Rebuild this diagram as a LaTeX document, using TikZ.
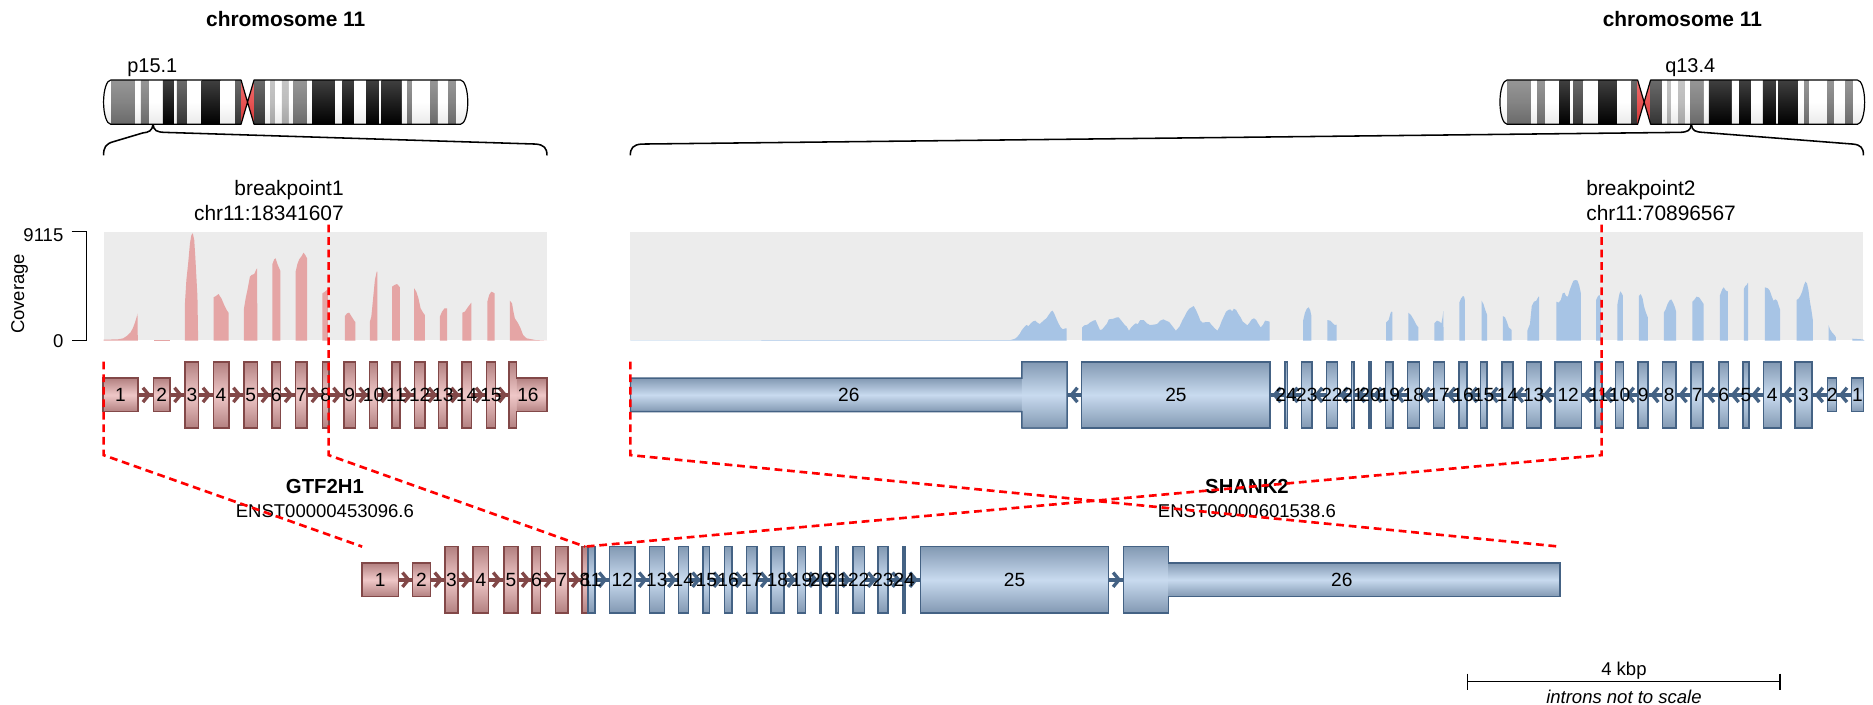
\documentclass[tikz,border=0pt]{standalone}
\usepackage{fontspec}
\setmainfont{Liberation Sans}
\usetikzlibrary{calc}

\definecolor{pinkfill}{HTML}{E5A5A5}
\definecolor{bluefill}{HTML}{A7C4E5}
\definecolor{pinkdark}{RGB}{130,72,72}
\definecolor{bluedark}{RGB}{68,98,132}
\definecolor{panelgray}{RGB}{236,236,236}
\definecolor{stneg}{gray}{1}
\definecolor{stA}{gray}{0.7}
\definecolor{stB}{gray}{0.45}
\definecolor{stC}{gray}{0.22}
\definecolor{stD}{gray}{0}
\definecolor{stacen}{RGB}{228,60,60}

\newcommand\fsbig{\fontsize{17.5}{20}\selectfont}
\newcommand\fsband{\fontsize{16.7}{19}\selectfont}
\newcommand\fssmall{\fontsize{15.5}{18}\selectfont}
\newcommand\fsexon{\fontsize{16}{18}\selectfont}
\newcommand\trkA{330.6}
\newcommand\trkB{485.3}

% chromosome 11 ideogram (hg38 bands in Mb); #1 = left x, #2 = drawn length
\newcommand\chromo[2]{%
  \pgfmathsetmacro\cpE{#1+51.0/135.087*#2}%
  \pgfmathsetmacro\cqS{#1+55.8/135.087*#2}%
  \pgfmathsetmacro\cce{#1+53.4/135.087*#2}%
  \pgfmathsetmacro\cR{#1+#2}%
  \begin{scope}
    \clip ({#1+6},67) .. controls ({#1+2.69},67) and (#1,75.28) .. (#1,85.5)
      .. controls (#1,95.72) and ({#1+2.69},104) .. ({#1+6},104)
      -- (\cpE,104) -- (\cce,85.5) -- (\cpE,67) -- cycle
      (\cqS,67) -- ({\cR-6},67) .. controls ({\cR-2.69},67) and (\cR,75.28) .. (\cR,85.5)
      .. controls (\cR,95.72) and ({\cR-2.69},104) .. ({\cR-6},104)
      -- (\cqS,104) -- (\cce,85.5) -- cycle;
    \foreach \bandS/\bandE/\bandC in {0/2.8/stneg, 2.8/11.7/stB, 11.7/13.8/stneg,
        13.8/16.9/stB, 16.9/22.0/stneg, 22.0/26.2/stD, 26.2/27.2/stneg, 27.2/31.0/stC,
        31.0/36.4/stneg, 36.4/43.4/stD, 43.4/48.8/stneg, 48.8/51.0/stC, 51.0/55.8/stacen,
        55.8/60.1/stC, 60.1/61.9/stneg, 61.9/63.6/stA, 63.6/66.1/stneg, 66.1/68.7/stA,
        68.7/70.5/stneg, 70.5/75.5/stB, 75.5/77.4/stneg, 77.4/85.9/stD, 85.9/88.6/stneg,
        88.6/93.0/stD, 93.0/97.4/stneg, 97.4/102.3/stD, 102.3/103.0/stneg, 103.0/110.6/stD,
        110.6/112.7/stneg, 112.7/114.6/stB, 114.6/121.3/stneg, 121.3/124.0/stB,
        124.0/127.9/stneg, 127.9/130.9/stB, 130.9/135.087/stneg}
      \shade[top color=\bandC!75!white, bottom color=\bandC!92!black, middle color=\bandC!88!white]
        ({#1+\bandS/135.087*#2},67) rectangle ({#1+\bandE/135.087*#2},104);
  \end{scope}
  \draw[line width=1pt, line join=round]
      ({#1+6},67) .. controls ({#1+2.69},67) and (#1,75.28) .. (#1,85.5)
      .. controls (#1,95.72) and ({#1+2.69},104) .. ({#1+6},104)
      -- (\cpE,104) -- (\cce,85.5) -- (\cpE,67) -- cycle
      (\cqS,67) -- ({\cR-6},67) .. controls ({\cR-2.69},67) and (\cR,75.28) .. (\cR,85.5)
      .. controls (\cR,95.72) and ({\cR-2.69},104) .. ({\cR-6},104)
      -- (\cqS,104) -- (\cce,85.5) -- cycle;
}

\begin{document}
\begin{tikzpicture}[x=1pt,y=-1pt,
  every node/.style={inner sep=0pt, outer sep=0pt},
  exonpink/.style={draw=pinkdark, line width=1.2pt, top color=pinkfill!78!black,
    bottom color=pinkfill!78!black, middle color=pinkfill!62!white},
  exonblue/.style={draw=bluedark, line width=1.2pt, top color=bluefill!78!black,
    bottom color=bluefill!78!black, middle color=bluefill!62!white},
  partpink/.style={exonpink, draw=none},
  partblue/.style={exonblue, draw=none},
  talls/.style={minimum height=55.4pt},
  shorts/.style={minimum height=28pt},
  rimpink/.style={draw=pinkdark, line width=1.2pt},
  rimblue/.style={draw=bluedark, line width=1.2pt},
  intronpink/.style={draw=pinkdark, line width=3pt},
  intronblue/.style={draw=bluedark, line width=3pt},
  chevpink/.style={draw=pinkdark, line width=2.8pt},
  chevblue/.style={draw=bluedark, line width=2.8pt},
  exlab/.style={font=\fsexon, text=black, anchor=base},
  bpline/.style={draw=red, line width=2.2pt, dash pattern=on 6.5pt off 4pt},
  bracket/.style={draw=black, line width=1.3pt},
]
\useasboundingbox (0,0) rectangle (1568,590);
\fill[white] (0,0) rectangle (1568,590);

% ---------- chromosome ideograms ----------
\node[font=\fsbig\bfseries, anchor=base] (titleA) at (239.2,22.5) {chromosome 11};
\node[font=\fsbig\bfseries, anchor=base] (titleB) at (1408.4,22.5) {chromosome 11};
\node[font=\fsband, anchor=base] (bandA) at (127.5,60.4) {p15.1};
\node[font=\fsband, anchor=base] (bandB) at (1415,60.4) {q13.4};
\chromo{86.7}{304.9}
\chromo{1255.7}{305.3}

% braces from the band down to the plotted region
\coordinate (apexA) at (128.1,104);
\coordinate (apexB) at (1415.9,104);
\coordinate (brAl) at (86.7,130);
\coordinate (brAr) at (457.9,130);
\coordinate (brBl) at (527.7,130);
\coordinate (brBr) at (1560,130);
\draw[bracket] (apexA) .. controls (127.6,109.5) and (124.5,110.8) .. (119.5,111.3)
  -- (95,118.6) .. controls (88.5,120.3) and (86.7,123.5) .. (brAl);
\draw[bracket] (apexA) .. controls (128.6,109.5) and (131.5,110.5) .. (137.5,110.8)
  -- (448.5,120.6) .. controls (455.5,121.2) and (457.9,124) .. (brAr);
\draw[bracket] (apexB) .. controls (1415.4,109.5) and (1412.5,110.5) .. (1406.5,110.8)
  -- (537,120.6) .. controls (530,121.2) and (527.7,124) .. (brBl);
\draw[bracket] (apexB) .. controls (1416.4,109.5) and (1419.5,110.5) .. (1425.5,110.8)
  -- (1551,120.6) .. controls (1558,121.2) and (1560,124) .. (brBr);

% ---------- coverage panels ----------
\fill[panelgray] (86.7,194) rectangle (457.9,285);
\fill[panelgray] (527.7,194) rectangle (1560,285);

\begin{scope}[shift={(0,142.3)}, x=0.2989pt, y=-0.2791pt]
  \fill[pinkfill] plot coordinates {(290,512) (290,509) (330,508) (345,505) (355,498) (365,488) (372,475) (378,458) (383,440) (385,430) (386,512)} -- cycle;
  \fill[pinkfill] plot coordinates {(430,512) (430,509) (475,509) (475,512)} -- cycle;
  \fill[pinkfill] plot coordinates {(518,512) (518,400) (522,330) (527,280) (532,220) (536,195) (540,190) (544,210) (547,260) (550,320) (553,380) (555,512)} -- cycle;
  \fill[pinkfill] plot coordinates {(598,512) (598,382) (605,378) (612,372) (620,385) (628,405) (635,420) (640,428) (640,512)} -- cycle;
  \fill[pinkfill] plot coordinates {(683,512) (683,418) (688,385) (693,360) (700,320) (705,315) (712,312) (718,298) (720,295) (721,512)} -- cycle;
  \fill[pinkfill] plot coordinates {(763,512) (763,282) (768,268) (772,265) (777,282) (785,302) (785,512)} -- cycle;
  \fill[pinkfill] plot coordinates {(828,512) (828,305) (833,282) (838,268) (845,258) (850,248) (855,255) (860,265) (860,512)} -- cycle;
  \fill[pinkfill] plot coordinates {(903,512) (903,370) (910,365) (918,358) (918,512)} -- cycle;
  \fill[pinkfill] plot coordinates {(966,512) (966,438) (972,430) (978,428) (985,440) (992,452) (995,456) (995,512)} -- cycle;
  \fill[pinkfill] plot coordinates {(1036,512) (1036,455) (1040,440) (1045,385) (1050,330) (1055,305) (1057,305) (1057,512)} -- cycle;
  \fill[pinkfill] plot coordinates {(1098,512) (1098,350) (1105,345) (1112,342) (1117,348) (1120,352) (1120,512)} -- cycle;
  \fill[pinkfill] plot coordinates {(1160,512) (1160,355) (1166,365) (1172,385) (1178,415) (1185,428) (1190,435) (1190,512)} -- cycle;
  \fill[pinkfill] plot coordinates {(1232,512) (1232,440) (1238,425) (1245,415) (1252,415) (1252,512)} -- cycle;
  \fill[pinkfill] plot coordinates {(1295,512) (1295,428) (1302,425) (1310,412) (1315,405) (1320,398) (1320,512)} -- cycle;
  \fill[pinkfill] plot coordinates {(1365,512) (1365,395) (1370,375) (1376,365) (1382,368) (1385,370) (1385,512)} -- cycle;
  \fill[pinkfill] plot coordinates {(1428,512) (1428,392) (1434,400) (1438,425) (1442,445) (1450,458) (1458,475) (1465,495) (1475,505) (1500,510) (1532,512)} -- cycle;
\end{scope}

\begin{scope}[shift={(502.3,192.55)}, x=0.3737pt, y=-0.2791pt]
  \fill[bluefill] plot coordinates {(68,332) (68,331) (920,330) (930,326) (935,320) (940,312) (945,300) (950,292) (955,285) (960,288) (965,280) (970,274) (975,272) (980,278) (985,282) (990,276) (995,270) (1000,265) (1005,255) (1010,245) (1014,242) (1018,252) (1022,265) (1027,280) (1032,292) (1037,298) (1042,295) (1045,295) (1045,332)} -- cycle;
  \fill[bluefill] plot coordinates {(1080,332) (1080,292) (1085,286) (1092,284) (1097,278) (1105,272) (1110,270) (1115,285) (1120,300) (1125,298) (1130,290) (1135,282) (1140,268) (1150,266) (1158,262) (1162,262) (1168,272) (1175,284) (1180,290) (1185,302) (1190,292) (1195,285) (1200,280) (1205,282) (1210,270) (1218,270) (1225,280) (1232,285) (1240,284) (1248,282) (1255,272) (1262,268) (1268,272) (1275,276) (1282,288) (1290,302) (1298,290) (1305,270) (1310,258) (1315,245) (1320,236) (1325,232) (1330,228) (1335,240) (1340,255) (1345,272) (1350,278) (1358,276) (1365,276) (1370,285) (1378,296) (1383,302) (1388,290) (1393,272) (1398,258) (1402,246) (1407,240) (1412,238) (1416,244) (1420,236) (1425,240) (1430,252) (1435,262) (1440,275) (1445,280) (1450,286) (1455,278) (1460,268) (1465,265) (1470,270) (1475,282) (1480,292) (1485,285) (1490,272) (1495,273) (1500,275) (1500,332)} -- cycle;
\end{scope}

\begin{scope}[shift={(1080,192.55)}, x=0.3113pt, y=-0.2791pt]
  \fill[bluefill] plot coordinates {(35,332) (35,272) (40,248) (45,236) (50,232) (54,240) (57,256) (57,332)} -- cycle;
  \fill[bluefill] plot coordinates {(100,332) (100,270) (108,272) (115,280) (120,285) (125,284) (125,332)} -- cycle;
  \fill[bluefill] plot coordinates {(258,332) (258,278) (265,270) (270,250) (272,245) (275,246) (275,332)} -- cycle;
  \fill[bluefill] plot coordinates {(318,332) (318,248) (325,255) (332,268) (340,285) (345,292) (345,332)} -- cycle;
  \fill[bluefill] plot coordinates {(388,332) (388,280) (395,272) (402,275) (407,280) (410,262) (412,243) (413,332)} -- cycle;
  \fill[bluefill] plot coordinates {(455,332) (455,218) (460,205) (465,198) (468,200) (470,210) (470,332)} -- cycle;
  \fill[bluefill] plot coordinates {(515,332) (515,212) (520,222) (525,240) (530,255) (530,332)} -- cycle;
  \fill[bluefill] plot coordinates {(572,332) (572,258) (578,262) (583,275) (588,292) (596,300) (596,332)} -- cycle;
  \fill[bluefill] plot coordinates {(638,332) (638,302) (645,282) (650,228) (656,215) (662,212) (668,200) (670,200) (670,332)} -- cycle;
  \fill[bluefill] plot coordinates {(716,332) (716,215) (722,218) (728,210) (733,190) (738,188) (742,198) (747,200) (752,180) (757,165) (762,152) (768,150) (773,152) (778,168) (782,190) (782,332)} -- cycle;
  \fill[bluefill] plot coordinates {(823,332) (823,210) (828,198) (832,195) (836,210) (836,332)} -- cycle;
  \fill[bluefill] plot coordinates {(880,332) (880,225) (885,195) (888,184) (892,190) (895,197) (895,332)} -- cycle;
  \fill[bluefill] plot coordinates {(938,332) (938,198) (943,192) (948,205) (952,230) (957,248) (962,262) (962,332)} -- cycle;
  \fill[bluefill] plot coordinates {(1005,332) (1005,248) (1010,238) (1015,222) (1020,212) (1025,208) (1030,218) (1035,232) (1038,245) (1038,332)} -- cycle;
  \fill[bluefill] plot coordinates {(1082,332) (1082,215) (1088,208) (1093,200) (1100,202) (1105,210) (1112,222) (1112,332)} -- cycle;
  \fill[bluefill] plot coordinates {(1156,332) (1156,196) (1162,178) (1166,172) (1172,182) (1177,184) (1177,332)} -- cycle;
  \fill[bluefill] plot coordinates {(1220,332) (1220,178) (1224,168) (1228,165) (1230,160) (1232,158) (1232,332)} -- cycle;
  \fill[bluefill] plot coordinates {(1277,332) (1277,172) (1285,175) (1290,182) (1295,198) (1300,212) (1305,208) (1310,212) (1315,230) (1318,240) (1318,332)} -- cycle;
  \fill[bluefill] plot coordinates {(1362,332) (1362,210) (1368,205) (1372,198) (1377,185) (1382,165) (1386,155) (1390,160) (1394,180) (1398,215) (1402,240) (1406,272) (1406,332)} -- cycle;
  \fill[bluefill] plot coordinates {(1448,332) (1448,285) (1452,298) (1458,308) (1464,315) (1468,322) (1468,332)} -- cycle;
  \fill[bluefill] plot coordinates {(1512,332) (1512,326) (1540,328) (1545,332)} -- cycle;
\end{scope}

% coverage axis
\coordinate (axT) at (72.3,194);
\coordinate (axB) at (72.3,285);
\draw[line width=1.2pt] (60,194) -- (axT) -- (axB) -- (60,285);
\node[font=\fssmall, anchor=base east] (axmax) at (53,202.3) {9115};
\node[font=\fssmall, anchor=base east] (axmin) at (53,290.6) {0};
\node[font=\fssmall, rotate=90] (axname) at (16.4,246) {Coverage};

% breakpoint labels
\node[font=\fsbig, anchor=base east] (bpAname) at (287.7,164) {breakpoint1};
\node[font=\fsbig, anchor=base east] (bpApos) at (287.7,184.9) {chr11:18341607};
\node[font=\fsbig, anchor=base west] (bpBname) at (1328,164) {breakpoint2};
\node[font=\fsbig, anchor=base west] (bpBpos) at (1328,184.9) {chr11:70896567};

% ---------- GTF2H1 transcript ----------
\coordinate (gaL) at (86.1,\trkA);
\coordinate (gaR) at (458,\trkA);
\draw[intronpink] (gaL) -- (gaR);
\foreach \a/\b in {115.7/128.6, 142.3/154.9, 166.3/178.5, 191.6/204.2, 215.6/227.8,
    234.7/247.6, 257.1/270, 275.4/287.9, 297.5/309.5, 316/328, 334.9/346.8,
    355.8/367.2, 374.3/386.6, 394.7/407.2, 414.7/426}
  \draw[chevpink] ({(\a+\b)/2-2.5},\trkA-6) -- ({(\a+\b)/2+2.5},\trkA) -- ({(\a+\b)/2-2.5},\trkA+6);
\foreach \a/\b/\n in {86.1/115.7/1, 128.6/142.3/2}
  \node[exonpink, shorts, minimum width={(\b-\a)*1pt}] (ga\n) at ({(\a+\b)/2},\trkA) {};
\foreach \a/\b/\n in {154.9/166.3/3, 178.5/191.6/4, 204.2/215.6/5, 227.8/234.7/6,
    247.6/257.1/7, 270/275.4/8, 287.9/297.5/9, 309.5/316.0/10, 328/334.9/11,
    346.8/355.8/12, 367.2/374.3/13, 386.6/394.7/14, 407.2/414.7/15}
  \node[exonpink, talls, minimum width={(\b-\a)*1pt}] (ga\n) at ({(\a+\b)/2},\trkA) {};
\node[partpink, talls, minimum width=6.6pt] (ga16t) at (429.3,\trkA) {};
\node[partpink, shorts, minimum width=25.4pt] (ga16s) at (445.3,\trkA) {};
\draw[rimpink] (ga16t.north west) -- (ga16t.north east) -- (ga16s.north west)
  -- (ga16s.north east) -- (ga16s.south east) -- (ga16s.south west)
  -- (ga16t.south east) -- (ga16t.south west) -- cycle;
\foreach \x/\n in {100.9/1, 135.45/2, 160.6/3, 185.05/4, 209.9/5, 231.25/6, 252.35/7,
    272.7/8, 292.7/9, 312.75/10, 331.45/11, 351.3/12, 370.75/13, 390.65/14, 410.95/15, 442/16}
  \node[exlab] (gal\n) at (\x,\trkA+5.8) {\n};

% ---------- SHANK2 transcript ----------
\coordinate (gbL) at (527.8,\trkA);
\coordinate (gbR) at (1560,\trkA);
\draw[intronblue] (gbL) -- (gbR);
\foreach \a/\b in {893.3/905.6, 1063.2/1075.8, 1077.7/1089.7, 1098.4/1110.4,
    1119.6/1131.6, 1133.6/1146.2, 1147.6/1160, 1166.2/1178.2, 1188.2/1200,
    1209.4/1221.5, 1228.2/1239.4, 1244.7/1257.4, 1266.7/1278, 1289.9/1301.9,
    1323.8/1335.2, 1341.2/1352.5, 1359.2/1371.2, 1379.8/1391.7, 1403/1415.7,
    1425.7/1439, 1447/1459, 1464.3/1476.2, 1490.8/1502.8, 1516.8/1530.1, 1537.4/1550}
  \draw[chevblue] ({(\a+\b)/2+2.5},\trkA-6) -- ({(\a+\b)/2-2.5},\trkA) -- ({(\a+\b)/2+2.5},\trkA+6);
\node[partblue, shorts, minimum width=327.7pt] (gb26s) at (691.65,\trkA) {};
\node[partblue, talls, minimum width=37.8pt] (gb26t) at (874.4,\trkA) {};
\draw[rimblue] (gb26s.north west) -- (gb26s.north east) -- (gb26t.north west)
  -- (gb26t.north east) -- (gb26t.south east) -- (gb26t.south west)
  -- (gb26s.south east) -- (gb26s.south west) -- cycle;
\foreach \a/\b/\n in {905.6/1063.2/25, 1075.8/1077.7/24, 1089.7/1098.4/23,
    1110.4/1119.6/22, 1131.6/1133.6/21, 1146.2/1147.6/20, 1160/1166.2/19,
    1178.2/1188.2/18, 1200/1209.4/17, 1221.5/1228.2/16, 1239.4/1244.7/15,
    1257.4/1266.7/14, 1278/1289.9/13, 1301.9/1323.8/12, 1335.2/1341.2/11,
    1352.5/1359.2/10, 1371.2/1379.8/9, 1391.7/1403/8, 1415.7/1425.7/7,
    1439/1447/6, 1459/1464.3/5, 1476.2/1490.8/4, 1502.8/1516.8/3}
  \node[exonblue, talls, minimum width={(\b-\a)*1pt}] (gb\n) at ({(\a+\b)/2},\trkA) {};
\foreach \a/\b/\n in {1530.1/1537.4/2, 1550/1560/1}
  \node[exonblue, shorts, minimum width={(\b-\a)*1pt}] (gb\n) at ({(\a+\b)/2},\trkA) {};
\foreach \x/\n in {710.55/26, 984.4/25, 1076.75/24, 1094.05/23, 1115/22, 1132.6/21,
    1146.9/20, 1163.1/19, 1183.2/18, 1204.7/17, 1224.85/16, 1242.05/15, 1262.05/14,
    1283.95/13, 1312.85/12, 1338.2/11, 1355.85/10, 1375.5/9, 1397.35/8, 1420.7/7,
    1443/6, 1461.65/5, 1483.5/4, 1509.8/3, 1533.75/2, 1555/1}
  \node[exlab] (gbl\n) at (\x,\trkA+5.8) {\n};

% gene names
\node[font=\fontsize{17}{20}\selectfont\bfseries, anchor=base] (nameA) at (272,413.5) {GTF2H1};
\node[font=\fssmall, anchor=base] (txA) at (272,433.4) {ENST00000453096.6};
\node[font=\fontsize{17}{20}\selectfont\bfseries, anchor=base] (nameB) at (1043.9,413.5) {SHANK2};
\node[font=\fssmall, anchor=base] (txB) at (1043.9,433.4) {ENST00000601538.6};

% ---------- fusion transcript ----------
\coordinate (fuL) at (303.2,\trkB);
\coordinate (fuJ) at (489.75,\trkB);
\coordinate (fuR) at (1305.8,\trkB);
\draw[intronpink] (fuL) -- (fuJ);
\draw[intronblue] (fuJ) -- (fuR);
\foreach \a/\b in {333.4/345.5, 360.2/372.7, 383.3/396.1, 409/421.8, 433.6/445.5,
    452.5/465, 475.6/487.2}
  \draw[chevpink] ({(\a+\b)/2-2.5},\trkB-6) -- ({(\a+\b)/2+2.5},\trkB) -- ({(\a+\b)/2-2.5},\trkB+6);
\foreach \a/\b in {498/510.2, 531.6/543.5, 556.3/567.8, 576.2/588.4, 594.1/606.3,
    612.7/624.9, 633.9/645.4, 656.3/667.8, 674.3/686.5, 687.7/699.9, 701.8/714,
    723.6/735, 743.4/756, 757.8/770.6, 928/940.7}
  \draw[chevblue] ({(\a+\b)/2-2.5},\trkB-6) -- ({(\a+\b)/2+2.5},\trkB) -- ({(\a+\b)/2-2.5},\trkB+6);
\foreach \a/\b/\n in {303.2/333.4/1, 345.5/360.2/2}
  \node[exonpink, shorts, minimum width={(\b-\a)*1pt}] (fa\n) at ({(\a+\b)/2},\trkB) {};
\foreach \a/\b/\n in {372.7/383.3/3, 396.1/409/4, 421.8/433.6/5, 445.5/452.5/6,
    465/475.6/7, 487.2/492.3/8}
  \node[exonpink, talls, minimum width={(\b-\a)*1pt}] (fa\n) at ({(\a+\b)/2},\trkB) {};
\foreach \a/\b/\n in {492.3/498/11, 510.2/531.6/12, 543.5/556.3/13, 567.8/576.2/14,
    588.4/594.1/15, 606.3/612.7/16, 624.9/633.9/17, 645.4/656.3/18, 667.8/674.3/19,
    686.5/687.7/20, 699.9/701.8/21, 714/723.6/22, 735/743.4/23, 756/757.8/24,
    770.6/928/25}
  \node[exonblue, talls, minimum width={(\b-\a)*1pt}] (fb\n) at ({(\a+\b)/2},\trkB) {};
\node[partblue, talls, minimum width=37.3pt] (fb26t) at (959.35,\trkB) {};
\node[partblue, shorts, minimum width=327.8pt] (fb26s) at (1141.9,\trkB) {};
\draw[rimblue] (fb26t.north west) -- (fb26t.north east) -- (fb26s.north west)
  -- (fb26s.north east) -- (fb26s.south east) -- (fb26s.south west)
  -- (fb26t.south east) -- (fb26t.south west) -- cycle;
\foreach \x/\n in {318.3/1, 352.85/2, 378/3, 402.55/4, 427.7/5, 449/6, 470.3/7, 489.75/8}
  \node[exlab] (fal\n) at (\x,\trkB+5.8) {\n};
\foreach \x/\n in {495.15/11, 520.9/12, 549.9/13, 572/14, 591.25/15, 609.5/16,
    629.4/17, 650.85/18, 671.05/19, 687.1/20, 700.85/21, 718.8/22, 739.2/23,
    756.9/24, 849.3/25, 1123.25/26}
  \node[exlab] (fbl\n) at (\x,\trkB+5.8) {\n};

% ---------- breakpoint guides ----------
\coordinate (bpAtop) at (275.1,188);
\coordinate (bpAknee) at (275.1,381);
\coordinate (bpBtop) at (1340.8,188);
\coordinate (bpBknee) at (1340.8,381);
\coordinate (stAtop) at (86.7,302.8);
\coordinate (stAknee) at (86.7,381);
\coordinate (stBtop) at (527.7,302.8);
\coordinate (stBknee) at (527.7,381);
\coordinate (fuTL) at (303.2,457.6);
\coordinate (fuTJ) at (489.75,457.6);
\coordinate (fuTR) at (1305.8,457.6);
\draw[bpline] (stAtop) -- (stAknee) -- (fuTL);
\draw[bpline] (bpAtop) -- (bpAknee) -- (fuTJ);
\draw[bpline] (stBtop) -- (stBknee) -- (fuTR);
\draw[bpline] (bpBtop) -- (bpBknee) -- (fuTJ);

% ---------- scale bar ----------
\coordinate (sbL) at (1228.7,570.7);
\coordinate (sbR) at (1490.2,570.7);
\draw[line width=1.2pt] (sbL) -- (sbR);
\draw[line width=1.2pt] (1228.7,563.9) -- (1228.7,577.5);
\draw[line width=1.2pt] (1490.2,563.9) -- (1490.2,577.5);
\node[font=\fssmall, anchor=base] (sbtext) at (1359.5,565.9) {4 kbp};
\node[font=\fssmall\itshape, anchor=base] (sbnote) at (1359.5,588.6) {introns not to scale};
\end{tikzpicture}
\end{document}
